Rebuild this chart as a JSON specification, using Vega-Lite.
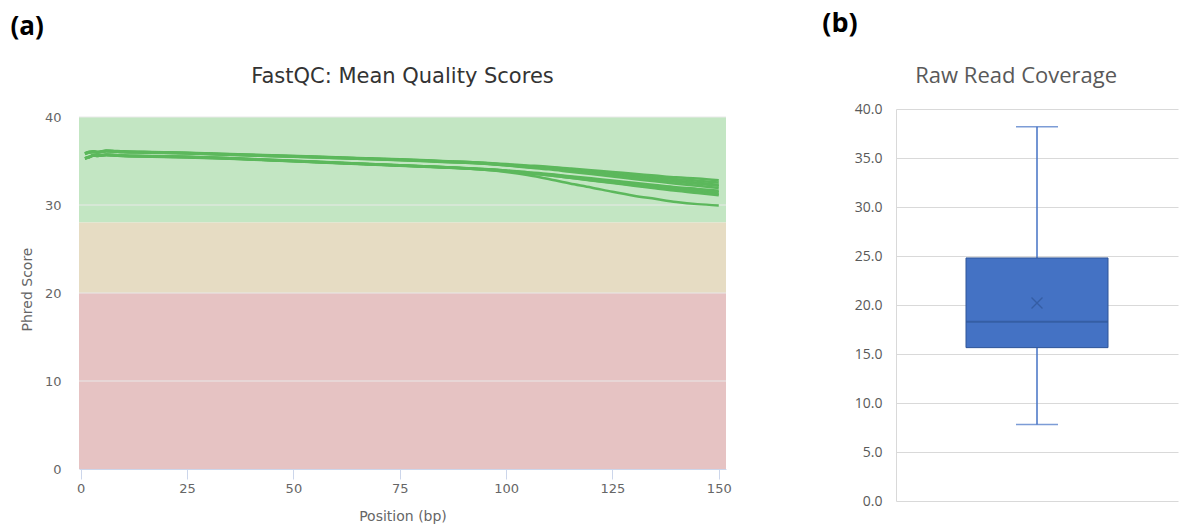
{
  "$schema": "https://vega.github.io/schema/vega-lite/v6.json",
  "background": "white",
  "padding": {"left": 10, "top": 10, "right": 4, "bottom": 4},
  "config": {
    "view": {"stroke": null},
    "concat": {"spacing": 90}
  },
  "datasets": {
    "zones": [
      {"zone": "pass", "lo": 28, "hi": 40},
      {"zone": "warn", "lo": 20, "hi": 28},
      {"zone": "fail", "lo": 0, "hi": 20}
    ],
    "gridlines": [{"g": 10}, {"g": 20}, {"g": 30}, {"g": 40}],
    "quality": [
      {"p": 1, "s1": 35.9, "s2": 35.85, "s3": 35.8, "s4": 35.87, "s5": 35.82, "s6": 35.33, "s7": 35.3, "s8": 35.26, "s9": 35.32, "s10": 35.28},
      {"p": 2, "s1": 36.05, "s2": 36.0, "s3": 35.95, "s4": 36.02, "s5": 35.97, "s6": 35.48, "s7": 35.45, "s8": 35.41, "s9": 35.47, "s10": 35.43},
      {"p": 3, "s1": 36.1, "s2": 36.05, "s3": 36.0, "s4": 36.07, "s5": 36.02, "s6": 35.68, "s7": 35.65, "s8": 35.61, "s9": 35.67, "s10": 35.63},
      {"p": 4, "s1": 36.05, "s2": 36.0, "s3": 35.95, "s4": 36.02, "s5": 35.97, "s6": 35.63, "s7": 35.6, "s8": 35.56, "s9": 35.62, "s10": 35.58},
      {"p": 6, "s1": 36.2, "s2": 36.15, "s3": 36.1, "s4": 36.17, "s5": 36.12, "s6": 35.73, "s7": 35.7, "s8": 35.66, "s9": 35.72, "s10": 35.68},
      {"p": 8, "s1": 36.15, "s2": 36.1, "s3": 36.05, "s4": 36.12, "s5": 36.07, "s6": 35.68, "s7": 35.65, "s8": 35.61, "s9": 35.67, "s10": 35.63},
      {"p": 10, "s1": 36.1, "s2": 36.05, "s3": 36.0, "s4": 36.07, "s5": 36.02, "s6": 35.63, "s7": 35.6, "s8": 35.56, "s9": 35.62, "s10": 35.58},
      {"p": 15, "s1": 36.05, "s2": 36.0, "s3": 35.95, "s4": 36.02, "s5": 35.97, "s6": 35.58, "s7": 35.55, "s8": 35.51, "s9": 35.57, "s10": 35.53},
      {"p": 25, "s1": 35.95, "s2": 35.9, "s3": 35.85, "s4": 35.92, "s5": 35.87, "s6": 35.48, "s7": 35.45, "s8": 35.41, "s9": 35.47, "s10": 35.43},
      {"p": 35, "s1": 35.8, "s2": 35.75, "s3": 35.7, "s4": 35.77, "s5": 35.72, "s6": 35.33, "s7": 35.3, "s8": 35.26, "s9": 35.32, "s10": 35.28},
      {"p": 45, "s1": 35.65, "s2": 35.6, "s3": 35.55, "s4": 35.62, "s5": 35.57, "s6": 35.13, "s7": 35.1, "s8": 35.06, "s9": 35.12, "s10": 35.08},
      {"p": 55, "s1": 35.5, "s2": 35.45, "s3": 35.4, "s4": 35.47, "s5": 35.42, "s6": 34.93, "s7": 34.9, "s8": 34.86, "s9": 34.92, "s10": 34.88},
      {"p": 65, "s1": 35.35, "s2": 35.3, "s3": 35.25, "s4": 35.32, "s5": 35.27, "s6": 34.73, "s7": 34.7, "s8": 34.66, "s9": 34.72, "s10": 34.68},
      {"p": 75, "s1": 35.2, "s2": 35.15, "s3": 35.1, "s4": 35.17, "s5": 35.12, "s6": 34.53, "s7": 34.5, "s8": 34.46, "s9": 34.52, "s10": 34.48},
      {"p": 85, "s1": 35.0, "s2": 34.95, "s3": 34.9, "s4": 34.97, "s5": 34.92, "s6": 34.33, "s7": 34.3, "s8": 34.26, "s9": 34.32, "s10": 34.28},
      {"p": 95, "s1": 34.8, "s2": 34.75, "s3": 34.7, "s4": 34.77, "s5": 34.72, "s6": 34.08, "s7": 34.05, "s8": 34.01, "s9": 34.07, "s10": 34.0},
      {"p": 100, "s1": 34.65, "s2": 34.58, "s3": 34.51, "s4": 34.57, "s5": 34.5, "s6": 33.93, "s7": 33.89, "s8": 33.83, "s9": 33.88, "s10": 33.75},
      {"p": 105, "s1": 34.5, "s2": 34.41, "s3": 34.33, "s4": 34.36, "s5": 34.27, "s6": 33.73, "s7": 33.67, "s8": 33.61, "s9": 33.63, "s10": 33.4},
      {"p": 110, "s1": 34.35, "s2": 34.25, "s3": 34.14, "s4": 34.16, "s5": 34.05, "s6": 33.53, "s7": 33.46, "s8": 33.38, "s9": 33.38, "s10": 32.95},
      {"p": 115, "s1": 34.15, "s2": 34.03, "s3": 33.9, "s4": 33.9, "s5": 33.78, "s6": 33.28, "s7": 33.2, "s8": 33.1, "s9": 33.09, "s10": 32.45},
      {"p": 120, "s1": 33.95, "s2": 33.81, "s3": 33.67, "s4": 33.65, "s5": 33.51, "s6": 33.03, "s7": 32.93, "s8": 32.82, "s9": 32.79, "s10": 32.0},
      {"p": 125, "s1": 33.75, "s2": 33.59, "s3": 33.43, "s4": 33.39, "s5": 33.23, "s6": 32.78, "s7": 32.67, "s8": 32.55, "s9": 32.5, "s10": 31.5},
      {"p": 130, "s1": 33.55, "s2": 33.37, "s3": 33.2, "s4": 33.14, "s5": 32.96, "s6": 32.53, "s7": 32.4, "s8": 32.27, "s9": 32.2, "s10": 31.05},
      {"p": 135, "s1": 33.35, "s2": 33.15, "s3": 32.96, "s4": 32.88, "s5": 32.69, "s6": 32.28, "s7": 32.14, "s8": 31.99, "s9": 31.91, "s10": 30.7},
      {"p": 140, "s1": 33.15, "s2": 32.94, "s3": 32.72, "s4": 32.63, "s5": 32.42, "s6": 32.03, "s7": 31.88, "s8": 31.72, "s9": 31.61, "s10": 30.35},
      {"p": 145, "s1": 33.0, "s2": 32.77, "s3": 32.54, "s4": 32.42, "s5": 32.19, "s6": 31.83, "s7": 31.66, "s8": 31.49, "s9": 31.37, "s10": 30.1},
      {"p": 150, "s1": 32.8, "s2": 32.55, "s3": 32.3, "s4": 32.17, "s5": 31.92, "s6": 31.63, "s7": 31.45, "s8": 31.26, "s9": 31.12, "s10": 29.95}
    ],
    "coverage": [
      {"set": "Raw reads", "min": 7.8, "q1": 15.65, "median": 18.3, "mean": 20.2, "q3": 24.8, "max": 38.2}
    ]
  },
  "hconcat": [
    {
      "title": {"text": "(a)", "anchor": "start", "font": "Open Sans", "fontSize": 26, "fontWeight": "bold", "color": "#000000", "offset": 26, "dx": -10},
      "vconcat": [
        {
          "width": 647,
          "height": 360,
          "title": {"text": "FastQC: Mean Quality Scores", "font": "DejaVu Sans", "fontSize": 21, "fontWeight": "normal", "color": "#333333", "offset": 22},
          "layer": [
            {
              "data": {"name": "zones"},
              "mark": {"type": "rect"},
              "encoding": {
                "y": {
                  "field": "lo", "type": "quantitative",
                  "scale": {"domain": [0, 40.91], "nice": false},
                  "axis": {
                    "values": [0, 10, 20, 30, 40], "domain": false, "ticks": false, "grid": false,
                    "labelFont": "DejaVu Sans", "labelFontSize": 13, "labelColor": "#666666", "labelPadding": 18,
                    "title": "Phred Score", "titleFont": "DejaVu Sans", "titleFontSize": 14, "titleFontWeight": "normal",
                    "titleColor": "#666666", "titlePadding": 10
                  }
                },
                "y2": {"field": "hi"},
                "color": {
                  "field": "zone", "type": "nominal",
                  "scale": {"domain": ["pass", "warn", "fail"], "range": ["#c3e6c3", "#e6dcc3", "#e6c3c3"]},
                  "legend": null
                }
              }
            },
            {
              "data": {"name": "gridlines"},
              "mark": {"type": "rule", "color": "#e9e9e9", "strokeWidth": 1},
              "encoding": {"y": {"field": "g", "type": "quantitative"}}
            },
            {
              "data": {"name": "quality"},
              "transform": [
                {"fold": ["s1", "s2", "s3", "s4", "s5", "s6", "s7", "s8", "s9", "s10"], "as": ["sample", "q"]}
              ],
              "mark": {"type": "line", "color": "#5cb85c", "strokeWidth": 2.5, "interpolate": "monotone"},
              "encoding": {
                "x": {
                  "field": "p", "type": "quantitative",
                  "scale": {"domain": [-0.4, 151.7], "nice": false, "zero": false},
                  "axis": {
                    "values": [0, 25, 50, 75, 100, 125, 150], "zindex": 1, "grid": false,
                    "domainColor": "#ccd6eb", "tickColor": "#ccd6eb", "tickSize": 10,
                    "labelFont": "DejaVu Sans", "labelFontSize": 13, "labelColor": "#666666", "labelPadding": 3,
                    "title": "Position (bp)", "titleFont": "DejaVu Sans", "titleFontSize": 14, "titleFontWeight": "normal",
                    "titleColor": "#666666", "titlePadding": 14
                  }
                },
                "y": {"field": "q", "type": "quantitative"},
                "detail": {"field": "sample"}
              }
            }
          ]
        }
      ]
    },
    {
      "title": {"text": "(b)", "anchor": "start", "font": "Open Sans", "fontSize": 27, "fontWeight": "bold", "color": "#000000", "offset": 27, "dx": -32},
      "vconcat": [
        {
          "width": 282,
          "height": 392,
          "title": {"text": "Raw Read Coverage", "font": "Open Sans", "fontSize": 22, "fontWeight": "normal", "color": "#595959", "offset": 14, "frame": "bounds"},
          "data": {"name": "coverage"},
          "encoding": {
            "x": {"field": "set", "type": "nominal", "scale": {"paddingInner": 0, "paddingOuter": 0}, "axis": null}
          },
          "layer": [
            {
              "mark": {"type": "rule", "color": "#4472c4", "strokeWidth": 1.5},
              "encoding": {
                "y": {
                  "field": "min", "type": "quantitative",
                  "scale": {"domain": [0, 40], "nice": false},
                  "axis": {
                    "values": [0, 5, 10, 15, 20, 25, 30, 35, 40], "format": ".1f",
                    "grid": true, "gridColor": "#d9d9d9", "gridWidth": 1,
                    "domain": true, "domainColor": "#d9d9d9", "ticks": false,
                    "labelFont": "Open Sans", "labelFontSize": 14, "labelColor": "#595959", "labelPadding": 14,
                    "title": null
                  }
                },
                "y2": {"field": "q1"}
              }
            },
            {
              "mark": {"type": "rule", "color": "#4472c4", "strokeWidth": 1.5},
              "encoding": {"y": {"field": "q3", "type": "quantitative"}, "y2": {"field": "max"}}
            },
            {
              "mark": {"type": "bar", "fill": "#4472c4", "stroke": "#2f5597", "strokeWidth": 1, "width": 142},
              "encoding": {"y": {"field": "q1", "type": "quantitative"}, "y2": {"field": "q3"}}
            },
            {
              "mark": {"type": "tick", "color": "#2f5597", "thickness": 2, "size": 142},
              "encoding": {"y": {"field": "median", "type": "quantitative"}}
            },
            {
              "mark": {"type": "tick", "color": "#4472c4", "thickness": 1.5, "size": 42},
              "encoding": {"y": {"field": "min", "type": "quantitative"}}
            },
            {
              "mark": {"type": "tick", "color": "#4472c4", "thickness": 1.5, "size": 42},
              "encoding": {"y": {"field": "max", "type": "quantitative"}}
            },
            {
              "mark": {"type": "point", "shape": "M-1,-1L1,1M-1,1L1,-1", "filled": false, "stroke": "#2f5597", "strokeWidth": 1.3, "size": 120},
              "encoding": {"y": {"field": "mean", "type": "quantitative"}}
            }
          ]
        }
      ]
    }
  ]
}
